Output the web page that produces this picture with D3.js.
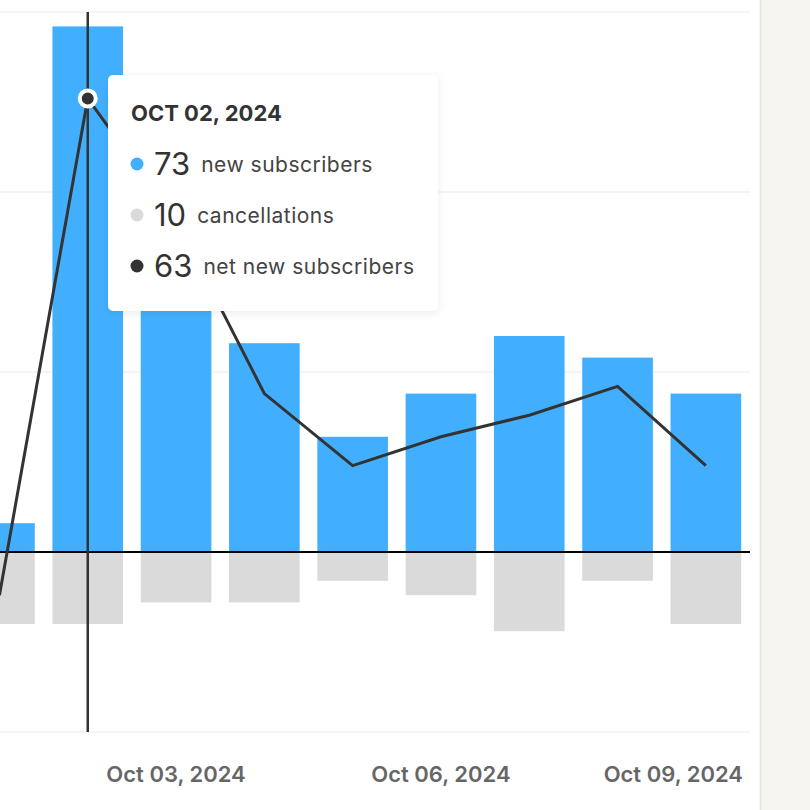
<!DOCTYPE html>
<html>
<head>
<meta charset="utf-8">
<script src="https://cdn.jsdelivr.net/npm/d3@7"></script>
<style>
  body { margin: 0; background: #fff; }
  svg { display: block; font-family: Inter, "Noto Sans", sans-serif; }
</style>
</head>
<body>
<svg id="chart" width="810" height="810"></svg>
<script>
// values
var days = ["2024-10-01", "2024-10-02", "2024-10-03", "2024-10-04", "2024-10-05",
            "2024-10-06", "2024-10-07", "2024-10-08", "2024-10-09"];
var newSubscribers = [4, 73, 53, 29, 16, 22, 30, 27, 22];
var cancellations  = [10, 10, 7, 7, 4, 6, 11, 4, 10];
var netNew         = [-6, 63, 46, 22, 12, 16, 19, 23, 12];

var yTicks = [-25, 0, 25, 50, 75];
var xTickDays = ["2024-10-03", "2024-10-06", "2024-10-09"];
var xTickLabels = ["Oct 03, 2024", "Oct 06, 2024", "Oct 09, 2024"];

var hoverDay = "2024-10-02";
var tooltipTitle = "OCT 02, 2024";
var tooltipRows = [
    {value: 73, label: "new subscribers", color: "#42affe"},
    {value: 10, label: "cancellations", color: "#dadada"},
    {value: 63, label: "net new subscribers", color: "#333333"}
];

var data = days.map(function(d, i) {
    return {day: d, added: newSubscribers[i], lost: cancellations[i], net: netNew[i]};
});

var right = 750, step = 88.3;
var x = d3.scaleBand()
    .domain(days)
    .range([right - step * days.length, right])
    .paddingInner(0.2)
    .paddingOuter(0.1);
var y = d3.scaleLinear()
    .domain([-25, 75])
    .range([732, 12]);

var svg = d3.select("#chart");

// side panel on the right
svg.append("rect").attr("x", 760).attr("y", 0).attr("width", 50).attr("height", 810).attr("fill", "#f6f5f1");
svg.append("line").attr("x1", 760.5).attr("x2", 760.5).attr("y1", 0).attr("y2", 810)
    .attr("stroke", "#e4e3e0").attr("stroke-width", 1.5);

// gridlines
svg.append("g").selectAll("line")
    .data(yTicks.filter(function(t) { return t !== 0; }))
    .enter().append("line")
    .attr("x1", 0).attr("x2", right)
    .attr("y1", function(d) { return y(d); })
    .attr("y2", function(d) { return y(d); })
    .attr("stroke", "#f1f1f1")
    .attr("stroke-width", 1.5);

// bars
svg.append("g").selectAll("rect")
    .data(data)
    .enter().append("rect")
    .attr("x", function(d) { return x(d.day); })
    .attr("width", x.bandwidth())
    .attr("y", function(d) { return y(d.added); })
    .attr("height", function(d) { return y(0) - y(d.added); })
    .attr("fill", "#42affe");

svg.append("g").selectAll("rect")
    .data(data)
    .enter().append("rect")
    .attr("x", function(d) { return x(d.day); })
    .attr("width", x.bandwidth())
    .attr("y", y(0))
    .attr("height", function(d) { return y(-d.lost) - y(0); })
    .attr("fill", "#dadada");

// zero line
svg.append("line")
    .attr("x1", 0).attr("x2", right)
    .attr("y1", y(0)).attr("y2", y(0))
    .attr("stroke", "#000").attr("stroke-width", 2);

// x axis
var xAxis = svg.append("g")
    .attr("transform", "translate(0," + 757 + ")")
    .call(d3.axisBottom(x)
        .tickValues(xTickDays)
        .tickSize(0)
        .tickFormat(function(d) { return xTickLabels[xTickDays.indexOf(d)]; }));
xAxis.select(".domain").remove();
xAxis.selectAll("text")
    .attr("dy", 0)
    .attr("y", 25)
    .attr("fill", "#666")
    .attr("font-family", "Inter, sans-serif")
    .attr("font-size", 22)
    .attr("font-weight", 600);
// keep the last label inside the plot
xAxis.selectAll(".tick").each(function(d) {
    var t = d3.select(this).select("text");
    var w = t.node().getComputedTextLength();
    var cx = x(d) + x.bandwidth() / 2;
    if (cx + w / 2 > right - 7) {
        t.attr("text-anchor", "end").attr("x", (right - 7) - cx);
    }
});

// hover line
var hx = x(hoverDay) + x.bandwidth() / 2;
svg.append("line")
    .attr("x1", hx).attr("x2", hx)
    .attr("y1", y(75)).attr("y2", y(-25))
    .attr("stroke", "#333").attr("stroke-width", 2.5);

// net line
var line = d3.line()
    .x(function(d) { return x(d.day) + x.bandwidth() / 2; })
    .y(function(d) { return y(d.net); });
svg.append("path")
    .datum(data)
    .attr("d", line)
    .attr("fill", "none")
    .attr("stroke", "#333")
    .attr("stroke-width", 3);

var hd = data[days.indexOf(hoverDay)];
svg.append("circle")
    .attr("cx", hx).attr("cy", y(hd.net)).attr("r", 8)
    .attr("fill", "#333").attr("stroke", "#fff").attr("stroke-width", 4);

// tooltip
var defs = svg.append("defs");
var f = defs.append("filter").attr("id", "shadow")
    .attr("x", "-10%").attr("y", "-10%").attr("width", "120%").attr("height", "130%");
f.append("feDropShadow").attr("dx", 0).attr("dy", 2).attr("stdDeviation", 4)
    .attr("flood-color", "#000").attr("flood-opacity", 0.08);

var tip = svg.append("g").attr("transform", "translate(108,75)");
tip.append("rect")
    .attr("width", 330).attr("height", 236).attr("rx", 5)
    .attr("fill", "#fff").attr("filter", "url(#shadow)");
tip.append("text")
    .attr("x", 23).attr("y", 46)
    .attr("fill", "#333").attr("font-size", 22).attr("font-weight", 700)
    .text(tooltipTitle);

var row = tip.selectAll("g.row")
    .data(tooltipRows)
    .enter().append("g")
    .attr("class", "row")
    .attr("transform", function(d, i) { return "translate(0," + (100 + i * 51) + ")"; });
row.append("circle").attr("cx", 29).attr("cy", -11).attr("r", 6.5)
    .attr("fill", function(d) { return d.color; });
row.append("text")
    .attr("x", 46).attr("y", 0)
    .attr("fill", "#333").attr("font-size", 31)
    .text(function(d) { return d.value; });
row.append("text")
    .attr("x", function(d) {
        var n = d3.select(this.parentNode).select("text").node();
        return 46 + n.getComputedTextLength() + 11;
    })
    .attr("y", -3)
    .attr("fill", "#444").attr("font-size", 21).attr("letter-spacing", 0.5)
    .text(function(d) { return d.label; });
</script>
</body>
</html>
